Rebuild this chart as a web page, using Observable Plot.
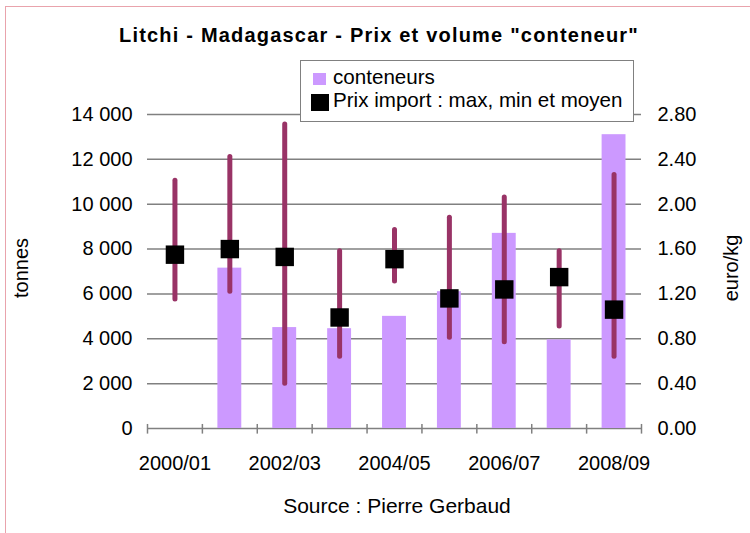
<!DOCTYPE html>
<html><head><meta charset="utf-8">
<script src="https://cdn.jsdelivr.net/npm/d3@7"></script>
<script src="https://cdn.jsdelivr.net/npm/@observablehq/plot@0.6"></script>
<style>
html,body{margin:0;padding:0;background:#fff;overflow:hidden;}
#wrap{position:relative;width:750px;height:533px;font-family:"Liberation Sans",Arial,sans-serif;color:#000;overflow:hidden;}
#border{position:absolute;left:5px;top:6px;width:800px;height:600px;border:1px solid #E9A3AC;}
#chart{position:absolute;left:0;top:0;}
#title{position:absolute;left:0;width:758px;top:24px;text-align:center;font-weight:bold;font-size:20px;letter-spacing:1.2px;white-space:nowrap;}
#legend{position:absolute;left:300px;top:60px;width:332px;height:60px;border:1px solid #808080;background:#fff;font-size:20.6px;}
.row{position:absolute;left:0;white-space:nowrap;}
.sw{position:absolute;}
.lt{position:absolute;left:32px;white-space:nowrap;}
.atitle{position:absolute;font-size:20px;white-space:nowrap;transform:translate(-50%,-50%) rotate(-90deg);}
#source{position:absolute;left:260px;width:274px;top:494px;text-align:center;font-size:21px;white-space:nowrap;}
</style>
</head><body>
<div id="wrap">
  <div id="border"></div>
  <div id="chart"></div>
  <div id="title"></div>
  <div id="legend"></div>
  <div class="atitle" id="ytl" style="left:21px;top:268px;"></div>
  <div class="atitle" id="ytr" style="left:731px;top:268px;"></div>
  <div id="source"></div>
</div>
<script>
const titleText = 'Litchi - Madagascar - Prix et volume "conteneur"';
const sourceText = "Source : Pierre Gerbaud";
const leftAxisTitle = "tonnes";
const rightAxisTitle = "euro/kg";
const seriesNames = ["conteneurs", "Prix import : max, min et moyen"];

const categories = ["2000/01","2001/02","2002/03","2003/04","2004/05","2005/06","2006/07","2007/08","2008/09"];
const conteneurs = [null, 7150, 4500, 4450, 5000, 6100, 8700, 3950, 13100];
const prixMax   = [2.21, 2.42, 2.71, 1.58, 1.77, 1.88, 2.06, 1.58, 2.26];
const prixMin   = [1.15, 1.22, 0.40, 0.64, 1.31, 0.81, 0.77, 0.91, 0.64];
const prixMoyen = [1.55, 1.60, 1.53, 0.99, 1.51, 1.16, 1.24, 1.35, 1.06];

const tonnesTicks = [0, 2000, 4000, 6000, 8000, 10000, 12000, 14000];
const euroTicks = [0, 0.4, 0.8, 1.2, 1.6, 2.0, 2.4, 2.8];
const labelledCategories = ["2000/01","2002/03","2004/05","2006/07","2008/09"];

const barColor = "#CC99FF";
const rangeColor = "#993366";
const gridColor = "#808080";

// the euro axis shares the tonnes scale: 2.80 euro/kg sits at 14 000 t
const factor = tonnesTicks[tonnesTicks.length - 1] / euroTicks[euroTicks.length - 1];

const data = categories.map((c, i) => ({
  cat: c, i, vol: conteneurs[i],
  max: prixMax[i] * factor, min: prixMin[i] * factor, mean: prixMoyen[i] * factor
}));
const boundaries = d3.range(categories.length + 1);
const fmtT = d => d3.format(",")(d).replace(/,/g, " ");

const chart = Plot.plot({
  width: 750, height: 533,
  marginTop: 114, marginBottom: 105, marginLeft: 147, marginRight: 109,
  style: {fontFamily: '"Liberation Sans", Arial, sans-serif', fontSize: "20px", background: "transparent", overflow: "visible"},
  x: {domain: [0, categories.length]},
  y: {domain: [0, tonnesTicks[tonnesTicks.length - 1]]},
  marks: [
    Plot.gridY(tonnesTicks, {stroke: gridColor, strokeOpacity: 1, strokeWidth: 1.5}),
    Plot.rectY(data.filter(d => d.vol != null), {x1: d => d.i, x2: d => d.i + 1, y: "vol", fill: barColor, insetLeft: 15.5, insetRight: 15.5}),
    Plot.ruleX(boundaries, {x: d => d, y1: -250, y2: 180, stroke: gridColor, strokeWidth: 1.5}),
    Plot.ruleX(data, {x: d => d.i + 0.5, y1: "min", y2: "max", stroke: rangeColor, strokeWidth: 5, strokeLinecap: "round"}),
    Plot.dot(data, {x: d => d.i + 0.5, y: "mean", symbol: "square", r: 10.4, fill: "#000", stroke: "none"}),
    Plot.axisY({ticks: tonnesTicks, tickFormat: fmtT, tickSize: 0, tickPadding: 15, label: null}),
    Plot.axisY({anchor: "right", ticks: euroTicks.map(v => v * factor), tickFormat: d => (d / factor).toFixed(2), tickSize: 0, tickPadding: 16, label: null}),
    Plot.axisX({ticks: labelledCategories.map(c => categories.indexOf(c) + 0.5), tickFormat: d => categories[Math.floor(d)], tickSize: 0, tickPadding: 27, label: null})
  ]
});
document.getElementById("chart").appendChild(chart);

document.getElementById("title").textContent = titleText;
document.getElementById("source").textContent = sourceText;
document.getElementById("ytl").textContent = leftAxisTitle;
document.getElementById("ytr").textContent = rightAxisTitle;

const legend = document.getElementById("legend");
legend.innerHTML =
  `<div class="sw" style="left:12px;top:12px;width:13px;height:12px;background:${barColor}"></div>` +
  `<div class="lt" style="top:4px">${seriesNames[0]}</div>` +
  `<div class="sw" style="left:10px;top:33px;width:18px;height:17px;background:#000"></div>` +
  `<div class="lt" style="top:27px">${seriesNames[1]}</div>`;
</script>
</body></html>
